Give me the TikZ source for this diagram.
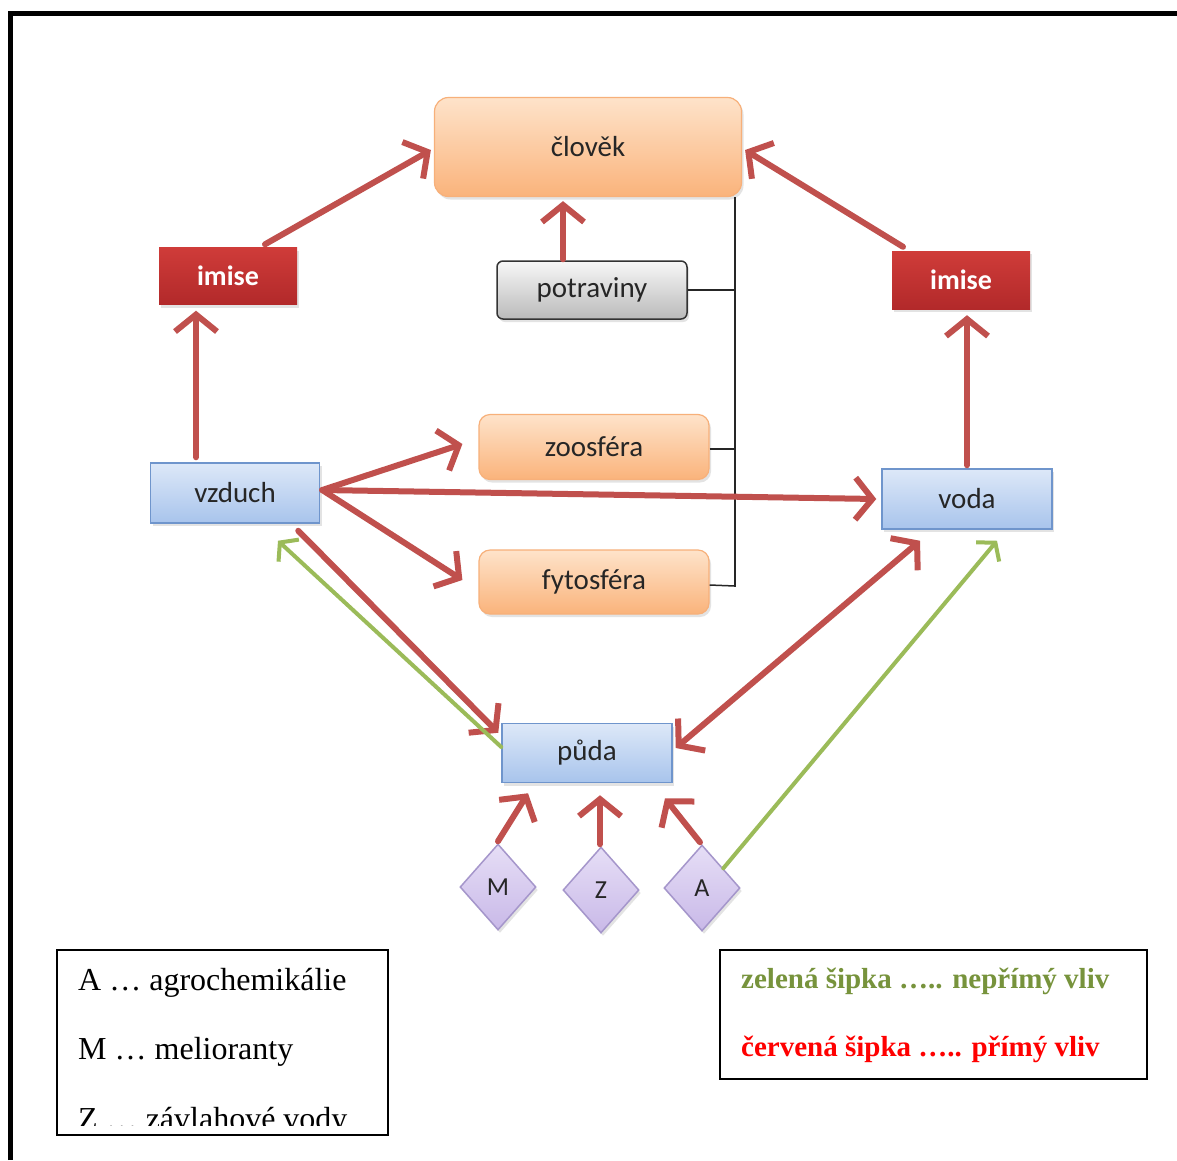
\documentclass[tikz,border=0pt]{standalone}
\usepackage{fontspec}
\setmainfont{Liberation Serif}
\newfontfamily\carl{Carlito}
\usetikzlibrary{arrows.meta,shapes.geometric,calc,shadows}
\definecolor{redarr}{HTML}{C0504D}
\definecolor{greenarr}{HTML}{9BBB59}
\definecolor{txt}{HTML}{262626}
\definecolor{legG}{HTML}{77933C}
\definecolor{legR}{HTML}{FF0000}
\definecolor{orTop}{HTML}{FEE3CA}
\definecolor{orBot}{HTML}{FAB37B}
\definecolor{orLine}{HTML}{F7B07A}
\definecolor{blTop}{HTML}{DDE8F8}
\definecolor{blBot}{HTML}{A8C4EC}
\definecolor{blLine}{HTML}{6F95CC}
\definecolor{imTop}{HTML}{CF3C39}
\definecolor{imBot}{HTML}{B2292A}
\definecolor{viTop}{HTML}{E6DEF6}
\definecolor{viBot}{HTML}{C9B9E8}
\definecolor{viLine}{HTML}{A596CB}
\tikzset{
  base/.style={inner sep=0pt, font=\carl\fontsize{29}{32}\selectfont, text=txt,
    drop shadow={opacity=0.22, shadow xshift=2pt, shadow yshift=-3pt}},
  orangebox/.style={base, rounded corners=14pt, draw=orLine, line width=1.2pt,
    top color=orTop, bottom color=orBot},
  bluebox/.style={base, draw=blLine, line width=1.5pt,
    top color=blTop, bottom color=blBot},
  greybox/.style={base, rounded corners=6pt, draw=black!80, line width=1.5pt,
    top color=black!3, bottom color=black!27},
  imisebox/.style={base, top color=imTop, bottom color=imBot, text=white,
    font=\carl\bfseries\fontsize{28}{32}\selectfont},
  diabox/.style={base, diamond, draw=viLine, line width=1.5pt,
    top color=viTop, bottom color=viBot,
    minimum width=76pt, minimum height=86pt, font=\carl\fontsize{26}{28}\selectfont},
  redline/.style={draw=redarr, line width=6pt, line cap=round},
  redarrow/.style={redline, -{Straight Barb[length=17pt,width=42pt,line width=6pt]}},
  redarrows/.style={redline, {Straight Barb[length=17pt,width=42pt,line width=6pt]}-{Straight Barb[length=17pt,width=42pt,line width=6pt]}},
  greenarrow/.style={draw=greenarr, line width=4pt, line cap=round, -{Straight Barb[length=12pt,width=30pt,line width=4pt]}},
  bracket/.style={draw=black!85, line width=1.5pt},
  legtext/.style={anchor=base west, inner sep=0pt, font=\fontsize{32}{36}\selectfont},
  legbold/.style={anchor=base west, inner sep=0pt, font=\bfseries\fontsize{29}{34}\selectfont},
  legbox/.style={draw=black, line width=2pt}
}
\begin{document}
\begin{tikzpicture}[x=1pt,y=-1pt]
\useasboundingbox (0,0) rectangle (1177,1160);
\fill[white] (0,0) rectangle (1177,1160);
% frame
\draw[line width=5pt] (10,1160) -- (10,13) -- (1177,13);

% nodes
\node[orangebox, minimum width=307pt, minimum height=99pt] (clovek) at (588,147) {člověk};
\node[greybox, minimum width=190pt, minimum height=58pt] (potraviny) at (592,290) {potraviny};
\node[imisebox, minimum width=138pt, minimum height=57pt] (imiseL) at (228,276) {imise};
\node[imisebox, minimum width=138pt, minimum height=58pt] (imiseR) at (961,280) {imise};
\node[orangebox, rounded corners=11pt, minimum width=230pt, minimum height=65pt] (zoo) at (594,447) {zoosféra};
\node[orangebox, rounded corners=11pt, minimum width=230pt, minimum height=64pt] (fyto) at (594,582) {fytosféra};
\node[bluebox, minimum width=169pt, minimum height=60pt] (vzduch) at (235,493) {vzduch};
\node[bluebox, minimum width=170pt, minimum height=60pt] (voda) at (967,499) {voda};
\node[bluebox, minimum width=170pt, minimum height=59pt] (puda) at (587,753) {půda};
\node[diabox] (M) at (498,887) {M};
\node[diabox] (Z) at (601,890) {Z};
\node[diabox] (A) at (702,888) {A};

% bracket
\coordinate (br) at (735,197);
\draw[bracket] (br) -- (735,587);
\draw[bracket] (potraviny.east) -- (potraviny.east -| br);
\draw[bracket] ($(zoo.east)+(0,2)$) -- ($(zoo.east -| br)+(0,2)$);
\draw[bracket] ($(fyto.east)+(0,3)$) -- ($(fyto.east -| br)+(0,4)$);

% red arrows
\draw[redarrow] ($(imiseL.north)+(37,-3)$) -- ($(clovek.west)+(-3,3)$);
\draw[redarrow] ($(imiseR.north)+(-58,-4)$) -- ($(clovek.east)+(3,3)$);
\draw[redarrow] ($(potraviny.north)+(-29,-1)$) -- ($(clovek.south)+(-25,4)$);
\draw[redarrow] ($(vzduch.north)+(-39,-5)$) -- ($(imiseL.south)+(-32,6)$);
\draw[redarrow] ($(voda.north)+(0,-3)$) -- ($(imiseR.south)+(6,6)$);
\draw[redarrow] ($(vzduch.east)+(2,-3)$) -- ($(zoo.west)+(-16,-3)$);
\draw[redarrow] ($(vzduch.east)+(2,-3)$) -- ($(voda.west)+(-5,0)$);
\draw[redarrow] ($(vzduch.east)+(2,-3)$) -- ($(fyto.west)+(-16,-2)$);
\draw[redarrow] ($(vzduch.south east)+(-22,7)$) -- ($(puda.north west)+(-3,10)$);
\draw[redarrows] ($(voda.south)+(-47,11)$) -- ($(puda.east)+(3,-5)$);
\draw[redarrow] ($(M.north)+(0,-2)$) -- ($(puda.south)+(-59,10)$);
\draw[redarrow] ($(Z.north)+(-1,-2)$) -- ($(puda.south)+(13,12)$);
\draw[redarrow] ($(A.north)+(-2,-2)$) -- ($(puda.south)+(78,15)$);

% green arrows
\draw[greenarrow] ($(puda.west)+(0,-6)$) -- ($(vzduch.south)+(43,17)$);
\draw[greenarrow] ($(A.east)!0.45!(A.north)$) -- ($(voda.south)+(30,11)$);

% legends
\draw[legbox] (57,950) rectangle (388,1135);
\node[legtext] (la) at (78,990) {A … agrochemikálie};
\node[legtext] (lm) at (78,1059) {M … melioranty};
\begin{scope}
\clip (57,1095) rectangle (388,1125);
\node[legtext] (lz) at (78,1129) {Z … závlahové vody};
\end{scope}

\draw[legbox] (720,950) rectangle (1147,1079);
\node[legbold, text=legG] (lg) at (741,988) {zelená šipka ….. nepřímý vliv};
\node[legbold, text=legR] (lr) at (741,1056) {červená šipka ….. přímý vliv};
\end{tikzpicture}
\end{document}
